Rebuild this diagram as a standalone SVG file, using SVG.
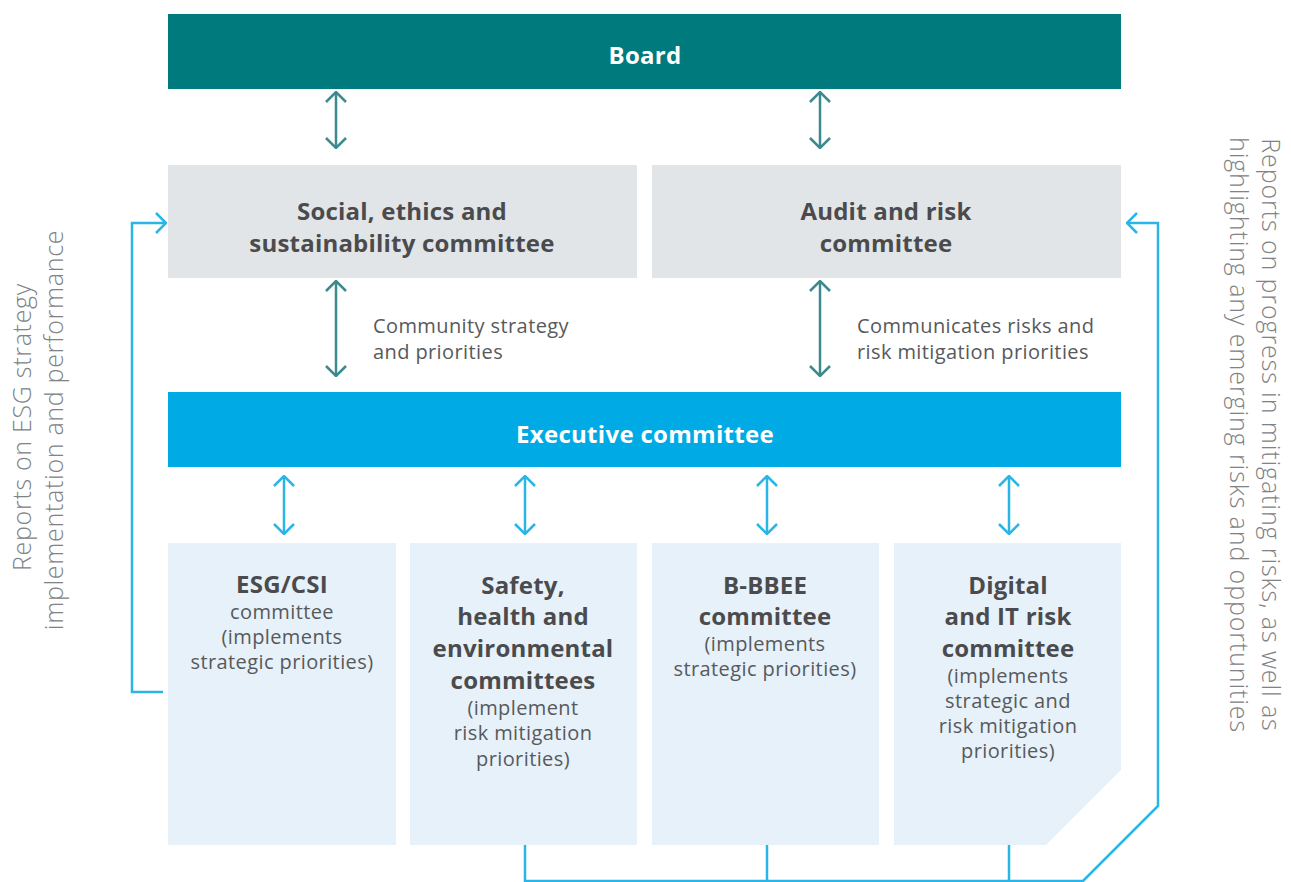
<svg xmlns="http://www.w3.org/2000/svg" width="1291" height="882" viewBox="0 0 1291 882">
<style>
.t{font-family:"Open Sans","Liberation Sans",sans-serif;text-anchor:middle}
.b{font-weight:700;font-size:24px;letter-spacing:0.2px;fill:#4b4b4d}
.w{font-weight:700;font-size:24px;letter-spacing:0.3px;fill:#ffffff}
.r{font-size:20px;letter-spacing:0.4px;fill:#58595b}
.a{font-family:"Open Sans","Liberation Sans",sans-serif;font-size:20px;letter-spacing:0.4px;fill:#58595b}
.s{font-family:"Open Sans","Liberation Sans",sans-serif;font-size:25px;font-weight:300;letter-spacing:0.7px;fill:#808285;text-anchor:middle}
.s2{letter-spacing:0.9px}
.teal{stroke:#3b8a8e;stroke-width:2.5;fill:none;marker-start:url(#mt);marker-end:url(#mt)}
.blue{stroke:#29b5e8;stroke-width:2.5;fill:none;marker-start:url(#mb);marker-end:url(#mb)}
.ln{stroke:#29b5e8;stroke-width:2.5;fill:none}
</style>
<defs>
<marker id="mt" viewBox="0 0 12 22" refX="11" refY="11" markerWidth="12" markerHeight="22" markerUnits="userSpaceOnUse" orient="auto-start-reverse"><path d="M1,1 L11,11 L1,21" fill="none" stroke="#3b8a8e" stroke-width="2.5"/></marker>
<marker id="mb" viewBox="0 0 12 22" refX="11" refY="11" markerWidth="12" markerHeight="22" markerUnits="userSpaceOnUse" orient="auto-start-reverse"><path d="M1,1 L11,11 L1,21" fill="none" stroke="#29b5e8" stroke-width="2.5"/></marker>
</defs>
<rect width="1291" height="882" fill="#ffffff"/>
<g id="board"><rect x="168" y="14" width="953" height="75" fill="#007a7c"/><text class="t w" x="645" y="64">Board</text></g>
<g id="social"><rect x="168" y="165" width="469" height="113" fill="#e1e5e7"/><text class="t b" x="402" y="220">Social, ethics and</text><text class="t b" x="402" y="252">sustainability committee</text></g>
<g id="audit"><rect x="652" y="165" width="469" height="113" fill="#e1e5e7"/><text class="t b" x="886" y="220">Audit and risk</text><text class="t b" x="886" y="252">committee</text></g>
<g id="executive"><rect x="168" y="392" width="953" height="75" fill="#00abe5"/><text class="t w" x="645" y="443">Executive committee</text></g>
<g id="esg"><rect x="168" y="543" width="228" height="302" fill="#e6f1fa"/><text class="t b" x="282" y="593">ESG/CSI</text><text class="t r" x="282" y="619">committee</text><text class="t r" x="282" y="644">(implements</text><text class="t r" x="282" y="669">strategic priorities)</text></g>
<g id="safety"><rect x="410" y="543" width="227" height="302" fill="#e6f1fa"/><text class="t b" x="523" y="594">Safety,</text><text class="t b" x="523" y="625">health and</text><text class="t b" x="523" y="657">environmental</text><text class="t b" x="523" y="689">committees</text><text class="t r" x="523" y="715">(implement</text><text class="t r" x="523" y="740">risk mitigation</text><text class="t r" x="523" y="766">priorities)</text></g>
<g id="bbbee"><rect x="652" y="543" width="227" height="302" fill="#e6f1fa"/><text class="t b" x="765" y="594">B-BBEE</text><text class="t b" x="765" y="625">committee</text><text class="t r" x="765" y="651">(implements</text><text class="t r" x="765" y="676">strategic priorities)</text></g>
<g id="digital"><polygon points="894,543 1121,543 1121,770 1046,845 894,845" fill="#e6f1fa"/><text class="t b" x="1008" y="594">Digital</text><text class="t b" x="1008" y="625">and IT risk</text><text class="t b" x="1008" y="657">committee</text><text class="t r" x="1008" y="683">(implements</text><text class="t r" x="1008" y="708">strategic and</text><text class="t r" x="1008" y="733">risk mitigation</text><text class="t r" x="1008" y="758">priorities)</text></g>
<g id="labels">
<text class="a" x="373" y="333">Community strategy</text><text class="a" x="373" y="359">and priorities</text>
<text class="a" x="857" y="333">Communicates risks and</text><text class="a" x="857" y="359">risk mitigation priorities</text>
<text class="s" transform="translate(31,427) rotate(-90)">Reports on ESG strategy</text>
<text class="s" transform="translate(63,430) rotate(-90)">implementation and performance</text>
<text class="s s2" transform="translate(1262,435) rotate(90)">Reports on progress in mitigating risks, as well as</text>
<text class="s s2" transform="translate(1230,435) rotate(90)">highlighting any emerging risks and opportunities</text>
</g>
<g id="connectors">
<path class="teal" d="M336,92 V148"/>
<path class="teal" d="M820,92 V148"/>
<path class="teal" d="M336,281 V376"/>
<path class="teal" d="M820,281 V376"/>
<path class="blue" d="M284,476 V534"/>
<path class="blue" d="M525,476 V534"/>
<path class="blue" d="M767,476 V534"/>
<path class="blue" d="M1009,476 V534"/>
<path class="ln" d="M163,692 H132 V223 H166" marker-end="url(#mb)"/>
<path class="ln" d="M525,845 V881 H1083 L1158,806 V223 H1127" marker-end="url(#mb)"/>
<path class="ln" d="M767,845 V881"/>
<path class="ln" d="M1009,845 V881"/>
</g>
</svg>
